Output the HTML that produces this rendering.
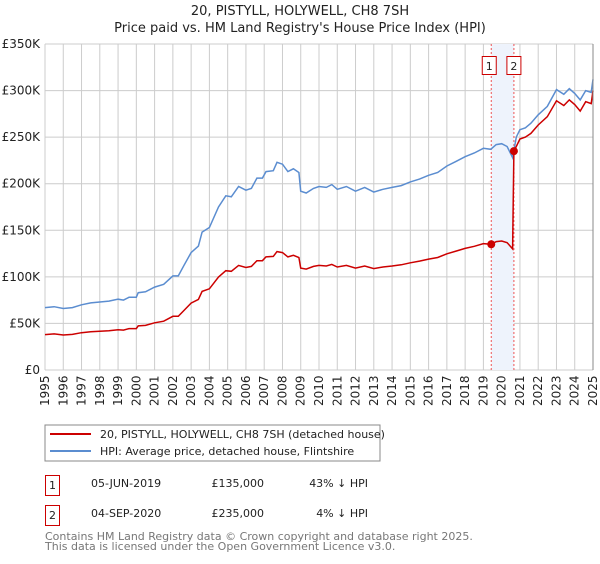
<!DOCTYPE html>
<html><head><meta charset="utf-8"><style>
body{margin:0;background:#fff;font-family:"DejaVu Sans","Liberation Sans",sans-serif;}
svg text{font-family:"DejaVu Sans","Liberation Sans",sans-serif;}
</style></head><body>
<svg id="chart" width="600" height="560" xmlns="http://www.w3.org/2000/svg">
<text x="300" y="15" text-anchor="middle" font-size="13" fill="#222">20, PISTYLL, HOLYWELL, CH8 7SH</text>
<text x="300" y="32" text-anchor="middle" font-size="13" fill="#222">Price paid vs. HM Land Registry's House Price Index (HPI)</text>
<g id="grid"></g><g id="band"></g><g id="series"></g><g id="axes"></g>
<rect x="45" y="425" width="335" height="36" fill="#fff" stroke="#888"/>
<line x1="50" y1="434" x2="91" y2="434" stroke="#cc0000" stroke-width="2"/>
<text x="100" y="438" font-size="11" fill="#222">20, PISTYLL, HOLYWELL, CH8 7SH (detached house)</text>
<line x1="50" y1="451" x2="91" y2="451" stroke="#5b8dd0" stroke-width="2"/>
<text x="100" y="455" font-size="11" fill="#222">HPI: Average price, detached house, Flintshire</text>
<g>
<rect x="45.5" y="475.5" width="14" height="20" fill="#fff" stroke="#cc0000"/>
<text x="52.5" y="489" text-anchor="middle" font-size="11" fill="#222">1</text>
<text x="91" y="487" font-size="11" fill="#222">05-JUN-2019</text>
<text x="264" y="487" text-anchor="end" font-size="11" fill="#222">£135,000</text>
<text x="368" y="487" text-anchor="end" font-size="11" fill="#222">43% ↓ HPI</text></g>
<g>
<rect x="45.5" y="505.5" width="14" height="20" fill="#fff" stroke="#cc0000"/>
<text x="52.5" y="519" text-anchor="middle" font-size="11" fill="#222">2</text>
<text x="91" y="517" font-size="11" fill="#222">04-SEP-2020</text>
<text x="264" y="517" text-anchor="end" font-size="11" fill="#222">£235,000</text>
<text x="368" y="517" text-anchor="end" font-size="11" fill="#222">4% ↓ HPI</text></g>
<text x="45" y="540" font-size="11" fill="#777">Contains HM Land Registry data © Crown copyright and database right 2025.</text>
<text x="45" y="550" font-size="11" fill="#777">This data is licensed under the Open Government Licence v3.0.</text>
</svg>
<script>
const hpiYears=[1995.0,1995.5,1996.0,1996.5,1997.0,1997.5,1998.0,1998.5,1999.0,1999.3,1999.6,2000.0,2000.1,2000.5,2001.0,2001.5,2002.0,2002.3,2002.6,2003.0,2003.4,2003.6,2004.0,2004.5,2004.9,2005.2,2005.6,2006.0,2006.3,2006.6,2006.9,2007.1,2007.5,2007.7,2008.0,2008.3,2008.6,2008.9,2009.0,2009.3,2009.7,2010.0,2010.4,2010.7,2011.0,2011.5,2012.0,2012.5,2013.0,2013.5,2014.0,2014.5,2015.0,2015.5,2016.0,2016.5,2017.0,2017.5,2018.0,2018.5,2019.0,2019.4,2019.7,2020.0,2020.3,2020.6,2020.8,2021.0,2021.3,2021.6,2022.0,2022.5,2023.0,2023.4,2023.7,2024.0,2024.3,2024.6,2024.9,2025.0];
const hpiValues=[67,68,66,67,70,72,73,74,76,75,78,78,83,84,89,92,101,101,112,126,133,148,153,175,187,186,197,193,195,206,206,213,214,223,221,213,216,212,192,190,195,197,196,199,194,197,192,196,191,194,196,198,202,205,209,212,219,224,229,233,238,237,242,243,240,228,250,258,260,265,274,283,301,296,302,297,290,300,298,312];
const priceYears=[1995.0,1995.5,1996.0,1996.5,1997.0,1997.5,1998.0,1998.5,1999.0,1999.3,1999.6,2000.0,2000.1,2000.5,2001.0,2001.5,2002.0,2002.3,2002.6,2003.0,2003.4,2003.6,2004.0,2004.5,2004.9,2005.2,2005.6,2006.0,2006.3,2006.6,2006.9,2007.1,2007.5,2007.7,2008.0,2008.3,2008.6,2008.9,2009.0,2009.3,2009.7,2010.0,2010.4,2010.7,2011.0,2011.5,2012.0,2012.5,2013.0,2013.5,2014.0,2014.5,2015.0,2015.5,2016.0,2016.5,2017.0,2017.5,2018.0,2018.5,2019.0,2019.43,2019.7,2020.0,2020.3,2020.6,2020.67,2020.8,2021.0,2021.3,2021.6,2022.0,2022.5,2023.0,2023.4,2023.7,2024.0,2024.3,2024.6,2024.9,2025.0];
const priceValues=[38,38.8,37.6,38.2,40,41,41.6,42.2,43.3,42.8,44.5,44.5,47.3,47.9,50.7,52.4,57.6,57.6,63.8,71.8,75.8,84.4,87.2,99.8,106.6,106,112.3,110,111.2,117.4,117.4,121.4,122,127.1,126,121.4,123.1,120.8,109.4,108.3,111.2,112.3,111.7,113.4,110.6,112.3,109.4,111.7,108.9,110.6,111.7,112.9,115.1,116.9,119.1,120.8,124.8,127.7,130.5,132.8,135.7,135,137.9,138.5,136.8,130,235,240,248,250,254,263,272,289,284,290,285,278,288,286,300];
const saleYears=[2019.43,2020.67];
const saleValues=[135,235];
const saleLabels=["1","2"];
const yTicks=[0,50,100,150,200,250,300,350];
const yTickLabels=["£0","£50K","£100K","£150K","£200K","£250K","£300K","£350K"];
const xTicks=[1995,1996,1997,1998,1999,2000,2001,2002,2003,2004,2005,2006,2007,2008,2009,2010,2011,2012,2013,2014,2015,2016,2017,2018,2019,2020,2021,2022,2023,2024,2025];

const X0=45,X1=593,Y0=370,Y1=44;
const xs=y=>X0+(y-1995)/30*(X1-X0);
const ys=v=>Y0-v/350*(Y0-Y1);
const NS="http://www.w3.org/2000/svg";
function mk(parent,tag,attrs){const e=document.createElementNS(NS,tag);for(const k in attrs)e.setAttribute(k,attrs[k]);document.getElementById(parent).appendChild(e);return e;}
yTicks.forEach((t,i)=>{
 const l=mk('grid','line',{x1:X0,x2:X1,y1:ys(t),y2:ys(t),stroke:'#ccc'});
 
 
 const tx=mk('axes','text',{x:40,y:ys(t)+4,'text-anchor':'end','font-size':'12',fill:'#222'});
 tx.textContent=yTickLabels[i];
 
 
});
xTicks.forEach(t=>{
 const l=mk('grid','line',{x1:xs(t),x2:xs(t),y1:Y1,y2:Y0,stroke:'#ccc'});
 
 
 const tx=mk('axes','text',{transform:`translate(${xs(t)+4},${Y0+36}) rotate(-90)`,'font-size':'12',fill:'#222'});
 tx.textContent=t;
 
 
});
const b=mk('band','rect',{x:xs(saleYears[0]),y:Y1,width:xs(saleYears[1])-xs(saleYears[0]),height:Y0-Y1,fill:'#eef3fc'});


saleYears.forEach(s=>{
 const l=mk('band','line',{x1:xs(s),x2:xs(s),y1:Y1,y2:Y0,stroke:'#ee5555','stroke-dasharray':'2,2'});
 
 
});
const path=(xa,va)=>xa.map((y,i)=>(i?'L':'M')+xs(y).toFixed(1)+','+ys(va[i]).toFixed(1)).join('');
const h=mk('series','path',{d:path(hpiYears,hpiValues),fill:'none',stroke:'#5b8dd0','stroke-width':1.5});


const p=mk('series','path',{d:path(priceYears,priceValues),fill:'none',stroke:'#cc0000','stroke-width':1.5});


saleYears.forEach((s,i)=>{
 const c=mk('series','circle',{cx:xs(s),cy:ys(saleValues[i]),r:4,fill:'#cc0000'});
 
 
 const off=i===0?-3:3;
 const r=mk('series','rect',{x:xs(s)+off-7+(i===0?-7:7)*0,y:56.5,width:14,height:18,fill:'#fff',stroke:'#cc0000'});
 r.setAttribute('x',(i===0?xs(s)-9:xs(s)-7));
 
 
 const t=mk('series','text',{x:(i===0?xs(s)-2:xs(s)),y:70,'text-anchor':'middle','font-size':'11',fill:'#222'});
 t.textContent=saleLabels[i];
 
 
});
const ax=mk('axes','line',{x1:X1,x2:X1,y1:Y1,y2:Y0,stroke:'#888'});


</script>
</body></html>
